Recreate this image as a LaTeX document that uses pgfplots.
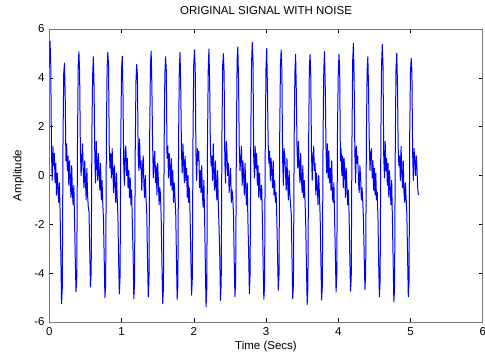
\documentclass[border=0pt]{standalone}
\usepackage{pgfplots}
\pgfplotsset{compat=1.18}
\usepackage{fontspec}
\setmainfont{Liberation Sans}
\definecolor{framegray}{RGB}{120,120,120}
\begin{document}
\begin{tikzpicture}
\begin{axis}[
  at={(0,0)}, anchor=south west,
  scale only axis, width=433.4bp, height=293bp,
  xmin=0, xmax=6, ymin=-6, ymax=6,
  xtick={0,1,2,3,4,5,6}, ytick={-6,-4,-2,0,2,4,6},
  tick align=inside, major tick length=4bp,
  tick style={black, line width=0.5bp},
  axis line style={framegray, line width=0.8bp},
  /pgf/number format/assume math mode=true,
  ticklabel style={font=\fontsize{11.5bp}{13bp}\selectfont},
  xticklabel style={anchor=base, yshift=-13bp},
  yticklabel style={anchor=east, xshift=-1.2bp},
  title={ORIGINAL SIGNAL WITH NOISE},
  title style={font=\fontsize{11.5bp}{13bp}\selectfont, at={(axis description cs:0.5,1.0307)}, anchor=base},
  xlabel={Time (Secs)},
  xlabel style={font=\fontsize{11.5bp}{13bp}\selectfont, at={(axis description cs:0.5,-0.0922)}, anchor=base},
  ylabel={Amplitude},
  ylabel style={font=\fontsize{11.5bp}{13bp}\selectfont, at={(axis description cs:-0.0646,0.5)}, anchor=base},
]
\addplot[color={rgb,255:red,0;green,0;blue,255}, line width=1bp, line join=round, no markers]
  table[row sep=\\, header=false, x expr=\coordindex*0.01, y index=0] {
4.4\\5.5\\4.6\\1.0\\-0.2\\1.2\\0.4\\0.9\\-0.3\\0.5\\-0.8\\0.1\\-0.5\\-1.1\\-0.3\\-1.6\\-3.3\\-5.25\\-4.6\\1.5\\
4.2\\4.6\\3.3\\0.6\\1.3\\0.2\\0.8\\-0.4\\0.6\\-0.1\\-0.9\\0.4\\-0.7\\-1.2\\-0.4\\-1.9\\-3.5\\-4.77\\-4.2\\1.2\\
4.5\\5.07\\4.2\\1.1\\0.0\\0.7\\1.3\\0.2\\-0.5\\0.6\\-0.2\\-1.0\\0.3\\-0.8\\-1.3\\-1.5\\-3.1\\-4.56\\-3.9\\1.8\\
4.1\\4.86\\3.6\\0.8\\-0.3\\1.4\\0.5\\-0.2\\0.9\\0.1\\-0.6\\0.5\\-1.0\\-0.2\\-1.1\\-1.8\\-3.4\\-5.0\\-4.5\\1.4\\
4.4\\5.04\\4.5\\1.2\\0.3\\0.9\\-0.1\\1.1\\0.2\\-0.7\\0.4\\-0.3\\-1.1\\0.1\\-0.9\\-1.7\\-3.6\\-4.84\\-4.1\\1.6\\
4.3\\4.89\\3.4\\0.5\\-0.4\\1.0\\1.2\\0.0\\0.7\\-0.5\\0.2\\-0.9\\-0.1\\-1.2\\-0.6\\-2.0\\-3.2\\-5.04\\-4.4\\1.1\\
3.9\\4.55\\4.1\\0.9\\0.2\\1.5\\0.3\\0.6\\-0.6\\0.3\\0.8\\-0.4\\-0.9\\0.0\\-1.0\\-1.6\\-3.5\\-4.97\\-4.3\\1.7\\
4.5\\5.1\\3.7\\1.3\\-0.1\\0.6\\1.0\\-0.3\\0.4\\-0.8\\0.5\\-0.2\\-1.2\\-0.5\\-0.8\\-1.9\\-3.7\\-5.25\\-4.6\\1.3\\
4.2\\4.86\\4.3\\0.7\\1.2\\-0.1\\0.9\\0.3\\-0.4\\0.7\\-0.6\\0.2\\-1.1\\-0.3\\-0.9\\-1.5\\-3.3\\-5.07\\-4.5\\1.5\\
4.4\\5.04\\3.5\\1.0\\0.1\\1.3\\0.5\\-0.3\\0.8\\-0.2\\0.3\\-0.9\\0.0\\-1.1\\-0.5\\-1.8\\-3.4\\-4.9\\-4.2\\1.9\\
4.6\\5.14\\4.4\\0.9\\-0.2\\1.1\\0.6\\1.0\\-0.5\\0.2\\-0.7\\0.4\\-0.8\\-1.3\\-0.2\\-1.7\\-3.6\\-5.38\\-4.7\\1.2\\
4.3\\5.18\\3.8\\1.2\\0.4\\0.8\\-0.2\\1.3\\0.1\\-0.6\\0.6\\-0.4\\-1.0\\0.2\\-1.2\\-2.1\\-3.3\\-5.11\\-4.4\\1.6\\
4.5\\5.0\\4.2\\0.6\\-0.3\\1.4\\0.9\\0.0\\0.5\\-0.7\\-0.1\\0.3\\-1.1\\-0.6\\-0.9\\-1.6\\-3.5\\-4.97\\-4.3\\1.4\\
4.7\\5.27\\3.9\\1.1\\0.2\\0.7\\1.2\\-0.4\\0.6\\0.0\\-0.8\\0.5\\-0.5\\-1.2\\-0.3\\-1.9\\-3.2\\-4.84\\-4.0\\1.8\\
4.6\\5.45\\4.7\\0.8\\-0.1\\1.2\\0.3\\0.9\\-0.4\\0.4\\-0.9\\0.1\\-0.6\\-1.0\\-0.4\\-1.7\\-3.6\\-5.07\\-4.5\\1.3\\
4.4\\5.2\\3.6\\1.3\\0.5\\1.0\\-0.2\\0.7\\0.2\\-0.5\\0.6\\-0.8\\-0.2\\-1.1\\-0.7\\-1.8\\-3.3\\-4.7\\-4.1\\1.7\\
4.5\\5.14\\4.3\\0.7\\-0.4\\1.1\\0.8\\0.1\\-0.6\\0.7\\-0.3\\-1.0\\0.2\\-0.7\\-1.2\\-1.6\\-3.4\\-5.04\\-4.4\\1.5\\
4.2\\4.96\\3.4\\1.0\\0.3\\1.4\\0.4\\-0.3\\0.9\\-0.1\\-0.7\\0.4\\-0.9\\-0.2\\-1.0\\-2.0\\-3.7\\-5.29\\-4.6\\1.2\\
4.4\\4.96\\4.1\\0.9\\-0.2\\0.8\\1.2\\0.2\\0.5\\-0.8\\0.1\\-0.4\\-1.2\\0.0\\-0.8\\-1.7\\-3.5\\-5.1\\-4.5\\1.6\\
4.3\\5.07\\3.7\\1.2\\0.1\\1.3\\-0.1\\1.0\\-0.3\\0.3\\-0.6\\0.6\\-0.9\\-1.1\\-0.3\\-1.8\\-3.2\\-4.77\\-4.1\\1.9\\
4.1\\4.96\\4.4\\0.6\\1.1\\0.0\\0.8\\-0.5\\0.7\\0.2\\-0.9\\0.3\\-0.4\\-1.2\\-0.6\\-1.6\\-3.3\\-4.74\\-4.2\\1.4\\
4.7\\5.41\\4.0\\1.0\\-0.3\\1.2\\0.5\\0.8\\-0.2\\-0.7\\0.4\\-0.1\\-1.0\\-0.5\\-1.1\\-1.9\\-3.4\\-4.67\\-4.0\\1.7\\
4.3\\4.86\\3.5\\1.3\\0.2\\0.9\\1.1\\-0.1\\0.6\\-0.6\\0.3\\-0.8\\0.1\\-1.0\\-0.7\\-1.7\\-3.6\\-4.97\\-4.3\\1.5\\
4.6\\5.37\\4.5\\0.8\\-0.1\\1.4\\0.2\\0.7\\-0.4\\0.5\\-0.9\\0.2\\-0.6\\-1.2\\-0.2\\-1.8\\-3.5\\-5.18\\-4.6\\1.3\\
4.4\\5.0\\3.8\\1.1\\0.4\\0.8\\-0.2\\1.2\\0.1\\-0.5\\0.6\\-0.7\\-1.1\\-0.3\\-0.9\\-1.6\\-3.3\\-4.97\\-4.4\\1.8\\
4.2\\4.8\\4.3\\0.9\\-0.2\\1.1\\0.6\\0.0\\0.8\\0.3\\-0.5\\-0.8\\
};
\end{axis}
\pgfresetboundingbox
\useasboundingbox (-49.3bp,-32bp) rectangle (435.7bp,322bp);
\end{tikzpicture}
\end{document}
